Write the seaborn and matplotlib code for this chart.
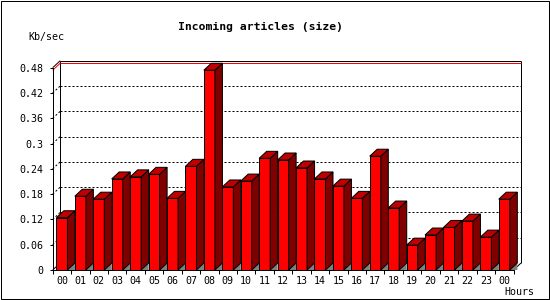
import matplotlib
matplotlib.use("Agg")
import matplotlib.pyplot as plt
import seaborn as sns
import pandas as pd
from matplotlib.patches import Polygon, Rectangle
from matplotlib.lines import Line2D

# ---- data ----
hours = ["00", "01", "02", "03", "04", "05", "06", "07", "08", "09", "10", "11",
         "12", "13", "14", "15", "16", "17", "18", "19", "20", "21", "22", "23", "00"]
values = [0.124, 0.175, 0.168, 0.216, 0.221, 0.227, 0.170, 0.246, 0.474, 0.197,
          0.211, 0.265, 0.261, 0.242, 0.216, 0.199, 0.170, 0.270, 0.147, 0.059,
          0.083, 0.101, 0.116, 0.078, 0.168]
yticks = [0, 0.06, 0.12, 0.18, 0.24, 0.30, 0.36, 0.42, 0.48]
ytick_labels = ["0", "0.06", "0.12", "0.18", "0.24", "0.3", "0.36", "0.42", "0.48"]
title = "Incoming articles (size)"
ylabel = "Kb/sec"
xlabel = "Hours"

sns.set_theme(style="white")
plt.rcParams["font.family"] = ["DejaVu Sans Mono"]
plt.rcParams["lines.scale_dashes"] = False

W, H = 550, 300
LW = 0.72  # 1 px
fig = plt.figure(figsize=(5.5, 3), dpi=100, facecolor="white")
L, R, B, T = 52.7, 513.5, 270.0, 67.7
ax = fig.add_axes([L / W, 1 - B / H, (R - L) / W, (B - T) / H])
ax.set_facecolor("none")

df = pd.DataFrame({"pos": list(range(len(values))), "value": values})
sns.barplot(data=df, x="pos", y="value", ax=ax, width=0.6, color="#ff0000",
            saturation=1, edgecolor="black", linewidth=LW, errorbar=None, zorder=3)

n = len(values)
ymax = yticks[-1]
ax.set_xlim(-0.5, n - 0.5)
ax.set_ylim(0, ymax)

px_x = (R - L) / n
px_y = (B - T) / ymax
DPX, DPY = 7.5, 7.0
dx = DPX / px_x
dy = DPY / px_y

xl, xr = -0.5, n - 0.5
xlb, xrb = xl + dx, xr + dx

def line(xs, ys, **kw):
    kw.setdefault("color", "black")
    kw.setdefault("lw", LW)
    kw.setdefault("zorder", 1)
    ax.add_line(Line2D(xs, ys, clip_on=False, solid_capstyle="butt", **kw))

# back gridlines
for yv in yticks[1:-1]:
    line([xlb, xrb], [yv + dy, yv + dy], linestyle=(0, (1.44, 1.44)), zorder=0.5)
    line([xl, xlb], [yv, yv + dy], linestyle=(0, (1.44, 1.44)), zorder=0.5)

# back plane frame
line([xlb, xlb], [dy, ymax + dy])
line([xlb, xrb], [ymax + dy, ymax + dy])
line([xrb, xrb], [ymax + dy, dy])
line([xrb, xr], [dy, 0])
line([xl, xlb], [ymax, ymax + dy])
line([xl, xlb], [0, dy])

# max line in red
vmax = max(values)
line([xlb, xrb], [vmax + dy, vmax + dy], color="#ff0000", zorder=1.2)
line([xl, xlb], [vmax, vmax + dy], color="#ff0000", zorder=1.2)

# 3D faces derived from the seaborn bars
for p in list(ax.patches):
    x0 = p.get_x()
    x1 = x0 + p.get_width()
    h = p.get_height()
    ax.add_patch(Polygon([(x1, 0), (x1 + dx, dy), (x1 + dx, 0)], closed=True,
                         fc="#808080", ec="none", zorder=2.5, clip_on=False))
    ax.add_patch(Polygon([(x1, 0), (x1, h), (x1 + dx, h + dy), (x1 + dx, dy)], closed=True,
                         fc="#800000", ec="black", lw=LW, zorder=3, clip_on=False))
    ax.add_patch(Polygon([(x0, h), (x1, h), (x1 + dx, h + dy), (x0 + dx, h + dy)], closed=True,
                         fc="#c00000", ec="black", lw=LW, zorder=3, clip_on=False))

# spines
for s in ["top", "right"]:
    ax.spines[s].set_visible(False)
for s in ["left", "bottom"]:
    ax.spines[s].set_visible(True)
    ax.spines[s].set_color("black")
    ax.spines[s].set_linewidth(LW)
    ax.spines[s].set_zorder(4)

ax.set_yticks(yticks, ytick_labels)
ax.set_xticks(range(n), hours)
ax.set_xticks([i - 0.5 for i in range(n + 1)], minor=True)
ax.tick_params(axis="y", left=True, length=2.2, width=LW, direction="out", pad=4.3,
               labelsize=7.2, colors="black")
ax.tick_params(axis="x", which="major", bottom=True, length=0, pad=4.6, labelsize=7.2,
               colors="black")
ax.tick_params(axis="x", which="minor", bottom=True, length=2.9, width=LW, direction="out",
               colors="black")
ax.set_xlabel("")
ax.set_ylabel("")

fig.text(260.5 / W, 1 - 27 / H, title, ha="center", va="center", fontsize=8.2,
         fontweight="bold", color="black")
fig.text(28 / W, 1 - 37 / H, ylabel, ha="left", va="center", fontsize=7.2, color="black")
fig.text(504 / W, 1 - 292 / H, xlabel, ha="left", va="center", fontsize=7.2, color="black")

fig.patches.append(Rectangle((0.5 / W, 1.5 / H), 548 / W, 298 / H, transform=fig.transFigure,
                             fill=False, ec="black", lw=LW, zorder=10))

fig.savefig("out.png", dpi=100, facecolor="white")
